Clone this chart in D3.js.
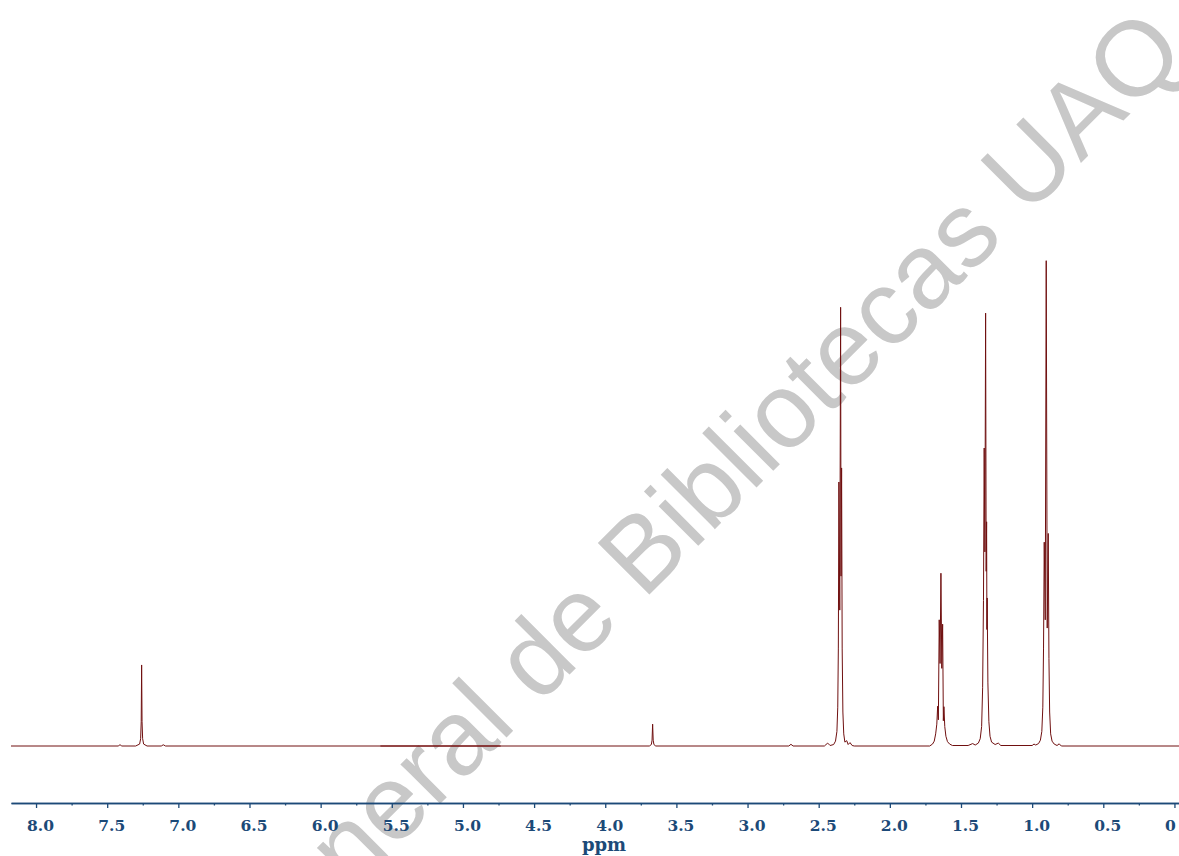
<!DOCTYPE html>
<html>
<head>
<meta charset="utf-8">
<script src="https://cdn.jsdelivr.net/npm/d3@7"></script>
<style>
  html, body { margin: 0; padding: 0; background: #ffffff; }
  svg { display: block; }
</style>
</head>
<body>
<div id="chart"></div>
<script>
// ---- Data (chemical shift in ppm, intensity in % of tallest peak) ----
const baselineEnds = [[8.176, 0], [-0.032, 0]];
const peak726 = [[7.42,0],[7.41,0.3],[7.40,0],[7.30,0],[7.272,0.4],[7.265,1.5],[7.261,5],[7.258,16.7],[7.255,5],[7.251,1.5],[7.244,0.4],[7.22,0],[7.12,0],[7.106,0.25],[7.09,0]];
const peak367 = [[3.69,0],[3.676,0.3],[3.671,1.2],[3.667,4.5],[3.663,1.2],[3.658,0.3],[3.645,0]];
const peak270 = [[2.71,0],[2.695,0.35],[2.68,0]];
const peak235 = [[2.46,0],[2.437,0.6],[2.42,0.1],[2.395,0.3],[2.382,1],[2.372,3],[2.366,8],[2.362,20],[2.358,54.4],[2.352,28],[2.346,90.4],[2.343,35],[2.339,57.3],[2.335,20],[2.330,7],[2.324,2.5],[2.316,0.8],[2.303,1.1],[2.293,0.3],[2.28,0.7],[2.265,0.1],[2.25,0]];
const peak165 = [[1.72,0],[1.70,0.4],[1.688,1],[1.678,2.5],[1.670,4.5],[1.664,8.2],[1.659,5.4],[1.653,26.0],[1.647,17],[1.641,35.6],[1.635,16],[1.629,25.1],[1.624,5.2],[1.620,8.1],[1.614,4],[1.606,2],[1.595,0.9],[1.58,0.4],[1.56,0.1]];
const peak133 = [[1.45,0.1],[1.418,0.5],[1.40,0.2],[1.378,0.6],[1.365,1.5],[1.355,4],[1.348,12],[1.342,30],[1.337,61.4],[1.332,40],[1.327,89.2],[1.323,36],[1.320,46.2],[1.318,24],[1.316,30.5],[1.311,13],[1.304,5],[1.296,2],[1.285,0.8],[1.26,0.3],[1.238,0.6],[1.22,0.1]];
const peak090 = [[1.0,0.1],[0.987,0.4],[0.975,0.2],[0.955,0.5],[0.942,1.2],[0.932,3],[0.925,8],[0.920,20],[0.915,42.0],[0.908,26],[0.901,100],[0.894,24.3],[0.887,43.8],[0.882,18],[0.877,7],[0.870,2.5],[0.860,1],[0.845,0.4],[0.825,0.1],[0.81,0.45],[0.795,0]];
const darkSegment = [[5.58, 0], [4.735, 0]];
const majorTicks = [8.0, 7.5, 7.0, 6.5, 6.0, 5.5, 5.0, 4.5, 4.0, 3.5, 3.0, 2.5, 2.0, 1.5, 1.0, 0.5, 0];
const minorTicks = [7.75, 7.25, 6.75, 6.25, 5.75, 5.25, 4.75, 4.25, 3.75, 3.25, 2.75, 2.25, 1.75, 1.25, 0.75, 0.25];
const tickLabels = ["8.0","7.5","7.0","6.5","6.0","5.5","5.0","4.5","4.0","3.5","3.0","2.5","2.0","1.5","1.0","0.5","0"];
const axisTitle = "ppm";
const watermarkText = "Dirección General de Bibliotecas UAQ";

// ---- Chart ----
const W = 1179, H = 856;
const svg = d3.select("#chart").append("svg").attr("width", W).attr("height", H);
svg.append("rect").attr("width", W).attr("height", H).attr("fill", "#ffffff");

const x = d3.scaleLinear().domain([8.176, -0.032]).range([11, 1179]);
const y = d3.scaleLinear().domain([0, 100]).range([746, 260.7]);

// watermark (behind)
svg.append("text")
  .attr("transform", "translate(1189,55) rotate(-45)")
  .attr("text-anchor", "end")
  .attr("font-family", "'Liberation Sans', Arial, sans-serif")
  .attr("font-size", 106)
  .attr("fill", "#c8c8c8")
  .text(watermarkText);

// spectrum
const spectrum = [].concat(baselineEnds, peak726, peak367, peak270, peak235, peak165, peak133, peak090)
  .sort((a, b) => b[0] - a[0]);
const line = d3.line().x(d => x(d[0])).y(d => y(d[1]));

svg.append("path")
  .datum(spectrum)
  .attr("d", line)
  .attr("fill", "none")
  .attr("stroke", "#701010")
  .attr("stroke-width", 1)
  .attr("stroke-linejoin", "round");

svg.append("path")
  .datum(darkSegment)
  .attr("d", line)
  .attr("fill", "none")
  .attr("stroke", "#7a1414")
  .attr("stroke-width", 1.3)
  .attr("stroke-opacity", 0.75);

// axis
const axisY = 803;
const axisColor = "#1c4a78";
const gMinor = svg.append("g").attr("transform", `translate(0,${axisY})`)
  .call(d3.axisBottom(x).tickValues(minorTicks).tickSize(2.5).tickSizeOuter(0).tickFormat(""));
const gMajor = svg.append("g").attr("transform", `translate(0,${axisY})`)
  .call(d3.axisBottom(x).tickValues(majorTicks).tickSize(5).tickSizeOuter(0)
    .tickFormat((d, i) => tickLabels[i]));

[gMinor, gMajor].forEach(g => {
  g.select(".domain").attr("stroke", axisColor).attr("stroke-width", 1.4);
  g.selectAll(".tick line").attr("stroke", axisColor).attr("stroke-width", 1.3);
});
gMajor.selectAll(".tick text")
  .attr("fill", axisColor)
  .attr("font-family", "'DejaVu Serif', serif")
  .attr("font-weight", "bold")
  .attr("font-size", "15.5px")
  .attr("y", 28)
  .attr("dy", 0)
  .attr("dx", d => d === 0 ? -4.5 : 4);

svg.append("text")
  .attr("x", 604).attr("y", 851)
  .attr("text-anchor", "middle")
  .attr("fill", axisColor)
  .attr("font-family", "'DejaVu Serif', serif")
  .attr("font-weight", "bold")
  .attr("font-size", "18px")
  .text(axisTitle);
</script>
</body>
</html>
